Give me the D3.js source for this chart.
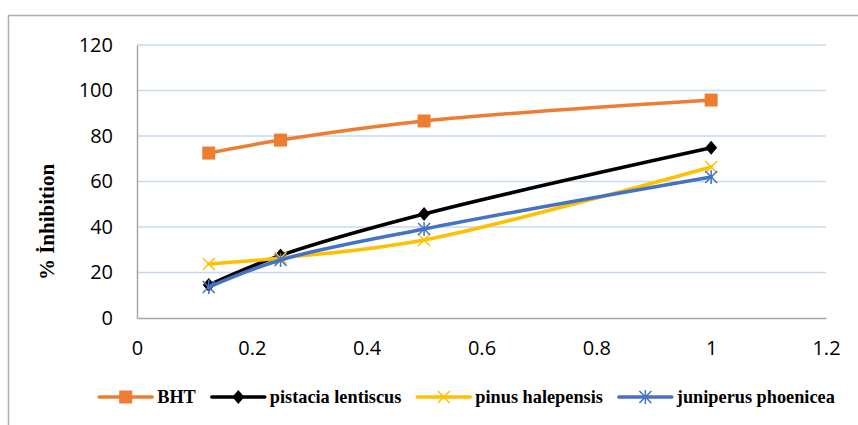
<!DOCTYPE html>
<meta charset="utf-8">
<title>% Inhibition</title>
<style>
  body { margin: 0; background: #fff; }
  svg { display: block; }
</style>
<body>
<div id="chart"></div>
<script src="https://cdn.jsdelivr.net/npm/d3@7"></script>
<script>

// concentrations (x) and % inhibition per extract
var conc = [0.125, 0.25, 0.5, 1];
var bht = [72.5, 78.2, 86.6, 95.8];
var pistacia = [14.5, 27.5, 45.7, 74.8];
var pinus = [23.7, 26.4, 34.3, 66.4];
var juniperus = [13.6, 25.5, 39.1, 62];
var xTicks = [0, 0.2, 0.4, 0.6, 0.8, 1, 1.2];
var yTicks = [0, 20, 40, 60, 80, 100, 120];

var series = [
  { name: "BHT", values: bht, color: "#ED7D31", marker: "square" },
  { name: "pistacia lentiscus", values: pistacia, color: "#000000", marker: "diamond" },
  { name: "pinus halepensis", values: pinus, color: "#FFC000", marker: "x" },
  { name: "juniperus phoenicea", values: juniperus, color: "#4472C4", marker: "star" }
];

var W = 858, H = 425;
var margin = { top: 45, right: 32, bottom: 107, left: 137 };
var width = W - margin.left - margin.right,
    height = H - margin.top - margin.bottom;

var svg = d3.select("#chart").append("svg")
    .attr("width", W)
    .attr("height", H);

// outer chart frame (cut by the page on right and bottom)
svg.append("rect")
    .attr("x", 8.5).attr("y", 15.5)
    .attr("width", 900).attr("height", 500)
    .attr("fill", "none")
    .attr("stroke", "#b0b0b0")
    .attr("stroke-width", 1.5);

var g = svg.append("g")
    .attr("transform", "translate(" + margin.left + "," + margin.top + ")");

var x = d3.scaleLinear().domain([0, 1.2]).range([0, width]);
var y = d3.scaleLinear().domain([0, 120]).range([height, 0]);

// gridlines
g.selectAll(".grid")
  .data(yTicks.filter(function(d) { return d > 0; }))
  .enter().append("line")
    .attr("x1", 0).attr("x2", width)
    .attr("y1", function(d) { return y(d); })
    .attr("y2", function(d) { return y(d); })
    .attr("stroke", "#c6d9f1")
    .attr("stroke-width", 1.3);

// axes
var yAxis = g.append("g")
    .call(d3.axisLeft(y).tickValues(yTicks).tickSize(0).tickPadding(24));
var xAxis = g.append("g")
    .attr("transform", "translate(0," + height + ")")
    .call(d3.axisBottom(x).tickValues(xTicks).tickSize(0).tickPadding(23)
      .tickFormat(function(d) { return d3.format("")(d); }));

[yAxis, xAxis].forEach(function(a) {
  a.select(".domain").attr("stroke", "#a6a6a6").attr("stroke-width", 1.5);
  a.selectAll("text")
    .attr("font-family", "'Open Sans', sans-serif")
    .attr("font-size", 20)
    .attr("fill", "#000");
});

// y label
svg.append("text")
    .attr("transform", "translate(54,222) rotate(-90)")
    .attr("text-anchor", "middle")
    .attr("font-family", "'Liberation Serif', serif")
    .attr("font-weight", "bold")
    .attr("font-size", 21)
    .text("% İnhibition");

function drawMarker(sel, type, color) {
  if (type === "square") {
    sel.append("rect").attr("x", -6.5).attr("y", -6.5).attr("width", 13).attr("height", 13)
      .attr("fill", color);
  } else if (type === "diamond") {
    sel.append("path").attr("d", "M0,-7L6,0L0,7L-6,0Z").attr("fill", color);
  } else if (type === "x") {
    sel.append("path").attr("d", "M-6,-6L6,6M-6,6L6,-6")
      .attr("stroke", color).attr("stroke-width", 1.5);
  } else {
    sel.append("path").attr("d", "M-6,-6L6,6M-6,6L6,-6M0,-7L0,7")
      .attr("stroke", color).attr("stroke-width", 1.5);
  }
}

var line = d3.line()
    .x(function(d, i) { return x(conc[i]); })
    .y(function(d) { return y(d); })
    .curve(d3.curveCatmullRom.alpha(0.5));

series.forEach(function(s) {
  g.append("path")
    .datum(s.values)
    .attr("d", line)
    .attr("fill", "none")
    .attr("stroke", s.color)
    .attr("stroke-width", 3.5)
    .attr("stroke-linecap", "round");
  s.values.forEach(function(v, i) {
    var m = g.append("g").attr("transform", "translate(" + x(conc[i]) + "," + y(v) + ")");
    drawMarker(m, s.marker, s.color);
  });
});

// legend
var legend = svg.append("g");
var lx = 0;
series.forEach(function(s) {
  var item = legend.append("g").attr("transform", "translate(" + lx + ",0)");
  item.append("line").attr("x1", 0).attr("x2", 53).attr("y1", 0).attr("y2", 0)
    .attr("stroke", s.color).attr("stroke-width", 3.5).attr("stroke-linecap", "round");
  drawMarker(item.append("g").attr("transform", "translate(26.5,0)"), s.marker, s.color);
  var t = item.append("text")
    .attr("x", 58).attr("y", 6)
    .attr("font-family", "'Liberation Serif', serif")
    .attr("font-weight", "bold")
    .attr("font-size", 18.3)
    .text(s.name);
  lx += 58 + t.node().getComputedTextLength() + 16;
});
var lw = lx - 16;
legend.attr("transform", "translate(" + (467 - lw / 2) + ",397)");

</script>
</body>
